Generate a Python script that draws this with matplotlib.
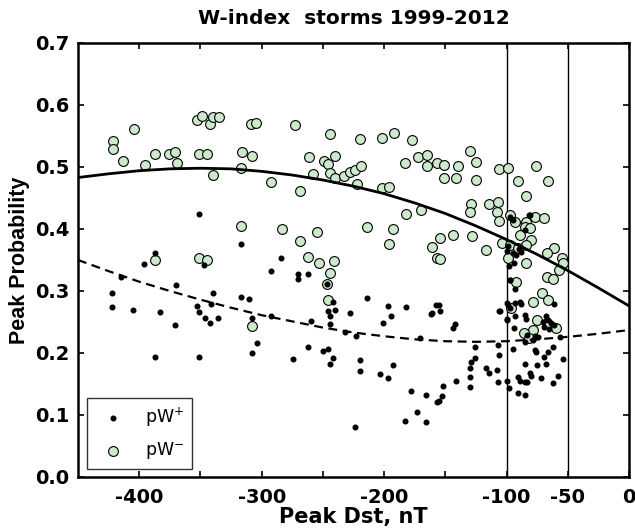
import numpy as np
import matplotlib.pyplot as plt

plt.rcParams['font.family'] = ['DejaVu Sans']
plt.rcParams['mathtext.default'] = 'regular'

# pW- (green circles): peak Dst, peak probability
dst_minus = [-421, -421, -404, -413, -395, -387, -376, -371, -369,
             -353, -349, -342, -340, -335, -351, -345, -340,
             -309, -305, -316, -308, -317, -317,
             -387, -351, -345, -308,
             -273, -244, -220, -202, -192, -177, -261, -249, -246, -240,
             -258, -244, -240, -233, -228, -224, -219, -222, -202, -196,
             -292, -269, -183, -172, -165, -165, -157, -182, -170,
             -283, -255, -269, -214, -193, -196, -161, -262, -253, -241,
             -157, -244, -247, -246,
             -130, -125, -151, -140, -151, -141, -125, -106, -99, -76,
             -91, -66, -84, -129, -130, -114, -107, -108, -106, -154,
             -144, -128, -117, -154,
             -97, -93, -84, -77, -69, -85, -81, -89, -80, -84, -104, -97,
             -91, -61, -67, -55, -54, -57, -99, -84, -67, -62, -92, -71,
             -78, -66, -96, -75, -67, -60, -78, -86, -82]
p_minus = [0.542, 0.529, 0.562, 0.510, 0.503, 0.521, 0.521, 0.524, 0.507,
           0.576, 0.583, 0.570, 0.580, 0.580, 0.521, 0.521, 0.487,
           0.570, 0.571, 0.524, 0.517, 0.499, 0.405,
           0.350, 0.354, 0.350, 0.244,
           0.567, 0.553, 0.545, 0.547, 0.555, 0.543, 0.516, 0.509, 0.505, 0.517,
           0.488, 0.491, 0.483, 0.486, 0.492, 0.495, 0.502, 0.472, 0.466, 0.468,
           0.475, 0.461, 0.506, 0.516, 0.519, 0.502, 0.506, 0.424, 0.431,
           0.400, 0.395, 0.380, 0.404, 0.400, 0.375, 0.371, 0.355, 0.345, 0.349,
           0.353, 0.329, 0.312, 0.286,
           0.525, 0.508, 0.503, 0.502, 0.483, 0.483, 0.479, 0.497, 0.498, 0.502,
           0.477, 0.477, 0.454, 0.441, 0.427, 0.441, 0.443, 0.427, 0.413, 0.385,
           0.390, 0.388, 0.366, 0.352,
           0.423, 0.412, 0.412, 0.420, 0.417, 0.404, 0.401, 0.390, 0.382, 0.374, 0.377, 0.374,
           0.369, 0.370, 0.362, 0.353, 0.345, 0.334, 0.353, 0.345, 0.322, 0.319, 0.315, 0.297,
           0.283, 0.285, 0.272, 0.253, 0.248, 0.240, 0.237, 0.232, 0.224]

# pW+ (black dots)
dst_plus = [-422, -422, -405, -415, -383, -370, -371, -387, -351, -353, -351, -346,
            -342, -336, -340, -341, -317, -310, -308, -304, -308, -347, -396, -387,
            -351, -317, -284,
            -292, -270, -270, -262, -247, -242, -240, -246, -244, -244, -260, -292,
            -262, -250, -246, -274, -242, -244, -232, -223, -214, -228, -220, -220,
            -203, -197, -193, -201, -197, -194, -182, -171, -162, -158, -178, -166,
            -157, -173, -183, -166, -224,
            -155, -154, -144, -142, -126, -126, -129, -130, -130, -117, -114, -108,
            -141, -152, -153, -155, -130, -107, -106, -106, -107, -100, -98, -99,
            -93, -97, -100, -93, -94, -95, -97, -93, -88, -85, -84, -85, -91, -89,
            -85, -83, -91, -85, -81, -80, -77, -76, -75, -72, -68, -69, -66, -62,
            -62, -58, -54, -56, -74, -77, -68, -66, -64, -69, -61, -65, -70, -61,
            -83, -78, -85,
            -97, -95, -82, -81, -85, -100, -95, -90, -98, -94, -97, -100, -89, -105,
            -100, -161, -99, -92, -88]
p_plus = [0.296, 0.274, 0.270, 0.323, 0.266, 0.309, 0.245, 0.194, 0.194, 0.275, 0.266, 0.256,
          0.249, 0.256, 0.296, 0.279, 0.290, 0.287, 0.256, 0.216, 0.200, 0.342, 0.343, 0.361,
          0.424, 0.376, 0.354,
          0.333, 0.327, 0.319, 0.327, 0.312, 0.283, 0.269, 0.268, 0.259, 0.247, 0.252, 0.260,
          0.209, 0.203, 0.206, 0.190, 0.192, 0.182, 0.234, 0.227, 0.288, 0.265, 0.188, 0.171,
          0.166, 0.159, 0.180, 0.249, 0.276, 0.260, 0.274, 0.224, 0.263, 0.277, 0.139, 0.132,
          0.121, 0.105, 0.091, 0.089, 0.081,
          0.277, 0.268, 0.240, 0.247, 0.209, 0.192, 0.186, 0.176, 0.162, 0.175, 0.167, 0.173,
          0.155, 0.147, 0.130, 0.123, 0.145, 0.213, 0.197, 0.268, 0.153, 0.155, 0.144, 0.277,
          0.280, 0.272, 0.255, 0.259, 0.240, 0.206, 0.318, 0.304, 0.279, 0.261, 0.255, 0.183,
          0.162, 0.155, 0.154, 0.153, 0.135, 0.132, 0.167, 0.163, 0.205, 0.201, 0.181, 0.159,
          0.182, 0.194, 0.201, 0.209, 0.151, 0.163, 0.190, 0.225, 0.225, 0.228, 0.259, 0.253,
          0.248, 0.242, 0.245, 0.239, 0.250, 0.279, 0.229, 0.221, 0.218,
          0.420, 0.415, 0.423, 0.423, 0.398, 0.365, 0.362, 0.368, 0.340, 0.345, 0.318, 0.280,
          0.283, 0.268, 0.253, 0.264, 0.372, 0.358, 0.363]

# fitted trend curves
fit_dst = [-450, -425, -400, -375, -350, -325, -300, -275, -250, -225,
           -200, -175, -150, -125, -100, -75, -50, -25, 0]
fit_minus = [0.483, 0.489, 0.494, 0.497, 0.498, 0.497, 0.493, 0.487, 0.479, 0.469,
             0.457, 0.442, 0.425, 0.405, 0.383, 0.359, 0.333, 0.305, 0.276]
fit_plus = [0.350, 0.332, 0.315, 0.300, 0.286, 0.273, 0.261, 0.251, 0.241, 0.233,
            0.227, 0.222, 0.219, 0.218, 0.219, 0.222, 0.226, 0.231, 0.237]

vlines = [-100, -50]

fig = plt.figure(figsize=(6.35, 5.32), dpi=100)
ax = fig.add_axes([0.1228, 0.1034, 0.8677, 0.8158])

for v in vlines:
    ax.axvline(v, color='black', lw=1.0, zorder=1)

ax.scatter(dst_minus, p_minus, s=50, facecolor='#cce9cc', edgecolor='black',
           linewidths=0.8, zorder=2, label='pW$^{-}$')
ax.scatter(dst_plus, p_plus, s=11, color='black', marker='o', zorder=3, label='pW$^{+}$')
ax.plot(fit_dst, fit_minus, color='black', lw=2, zorder=4)
ax.plot(fit_dst, fit_plus, color='black', lw=1.6, ls=(0, (4, 2.5)), zorder=4)

ax.set_xlim(-450, 0)
ax.set_ylim(0, 0.7)
xt = [-400, -350, -300, -250, -200, -150, -100, -50, 0]
ax.set_xticks(xt)
ax.set_xticklabels(['-400', '', '-300', '', '-200', '', '-100', '-50', '0'])
ax.set_yticks(np.arange(0, 0.71, 0.1))
ax.set_yticklabels(['%.1f' % t for t in np.arange(0, 0.71, 0.1)])
ax.tick_params(direction='in', top=True, right=True, length=4, width=1.2,
               labelsize=14)
ax.tick_params(axis='y', pad=6)
ax.tick_params(axis='x', pad=8)
for lbl in ax.get_xticklabels() + ax.get_yticklabels():
    lbl.set_fontweight('bold')
for s in ax.spines.values():
    s.set_linewidth(1.8)

ax.set_title('W-index  storms 1999-2012', fontsize=14.5, fontweight='bold', pad=14)
ax.set_xlabel('Peak Dst, nT', fontsize=15, fontweight='bold', labelpad=0)
ax.set_ylabel('Peak Probability', fontsize=15.5, fontweight='bold', labelpad=4,
              family=['Liberation Sans', 'DejaVu Sans'])

handles, labels = ax.get_legend_handles_labels()
leg = ax.legend(handles[::-1], labels[::-1], loc='lower left', fontsize=12.5,
                frameon=True, fancybox=False, edgecolor='black',
                borderpad=0.45, handlelength=2.1, handletextpad=0.8,
                labelspacing=0.65, borderaxespad=0,
                bbox_to_anchor=(0.0163, 0.018))
leg.get_frame().set_linewidth(1.0)

fig.savefig('out.png', dpi=100)
